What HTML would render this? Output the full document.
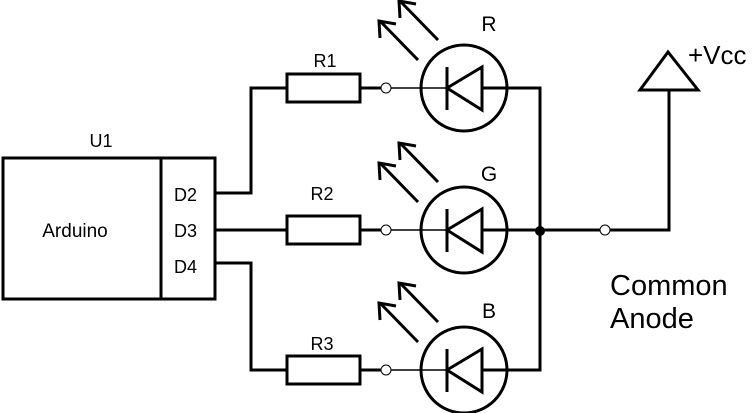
<!DOCTYPE html>
<html><head><style>body{margin:0;background:#fff}svg{display:block}text{font-family:"Liberation Sans",sans-serif;fill:#000}</style></head><body>
<svg width="756" height="413" viewBox="0 0 756 413" xmlns="http://www.w3.org/2000/svg">
<g fill="none" stroke="#000" stroke-width="3">
<rect x="3" y="158" width="212" height="141"/>
<line x1="161" y1="158" x2="161" y2="299"/>
<polyline points="215,193 251,193 251,88 287,88"/>
<line x1="215" y1="230" x2="287" y2="230"/>
<polyline points="215,263 251,263 251,370 287,370"/>
<rect x="287" y="74" width="73" height="28"/>
<rect x="287" y="216" width="73" height="28"/>
<rect x="287" y="356" width="73" height="28"/>
<line x1="360" y1="88" x2="381" y2="88"/>
<line x1="360" y1="230" x2="381" y2="230"/>
<line x1="360" y1="370" x2="381" y2="370"/>
<polyline points="482,88 540,88 540,370 482,370"/>
<line x1="482" y1="230" x2="600" y2="230"/>
<polyline points="610,230 669,230 669,90"/>
<polygon points="668,52 640,90 698,90"/>
</g>
<g id="led">
<circle cx="464" cy="88" r="43" fill="none" stroke="#000" stroke-width="3"/>
<line x1="391" y1="88" x2="447" y2="88" stroke="#000" stroke-width="1.5"/>
<line x1="447" y1="67" x2="447" y2="110" stroke="#000" stroke-width="3"/>
<polygon points="447,88 482,67 482,110" fill="none" stroke="#000" stroke-width="3"/>
<circle cx="386" cy="88" r="5" fill="#fff" stroke="#000" stroke-width="1"/>
<line x1="438" y1="40" x2="401" y2="2" stroke="#000" stroke-width="3"/>
<polyline points="400,18 399,1 416,4" fill="none" stroke="#000" stroke-width="3"/>
<line x1="418" y1="60" x2="381" y2="22" stroke="#000" stroke-width="3"/>
<polyline points="380,38 379,21 396,24" fill="none" stroke="#000" stroke-width="3"/>
</g>
<use href="#led" y="142"/>
<use href="#led" y="282"/>
<circle cx="540" cy="231" r="5" fill="#000"/>
<circle cx="605" cy="230" r="5" fill="#fff" stroke="#000" stroke-width="1"/>
<g font-size="18">
<text x="101" y="147" text-anchor="middle">U1</text>
<text x="75" y="237" text-anchor="middle" font-size="19">Arduino</text>
<text x="174" y="201">D2</text>
<text x="174" y="237">D3</text>
<text x="174" y="273">D4</text>
<text x="325" y="67" text-anchor="middle">R1</text>
<text x="322" y="200" text-anchor="middle">R2</text>
<text x="322" y="350" text-anchor="middle">R3</text>
<text x="489" y="31" text-anchor="middle" font-size="21">R</text>
<text x="489" y="181" text-anchor="middle" font-size="21">G</text>
<text x="489" y="318" text-anchor="middle" font-size="21">B</text>
<text x="688" y="64" font-size="26">+Vcc</text>
<text x="610" y="295" font-size="29">Common</text>
<text x="610" y="328" font-size="29">Anode</text>
</g>
</svg>
</body></html>
